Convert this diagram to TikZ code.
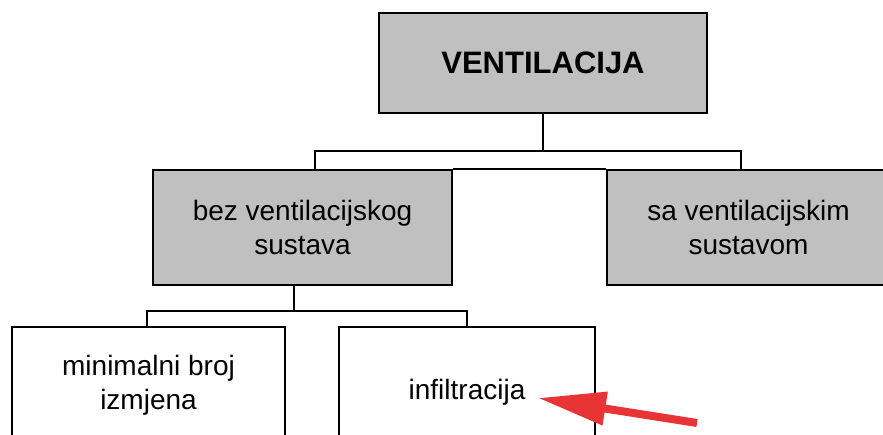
\documentclass[tikz,border=0pt]{standalone}
\usepackage{fontspec}
\setmainfont{Liberation Sans}
\usepackage{xcolor}
\usepackage{tikz}
\usetikzlibrary{arrows.meta, positioning}
\definecolor{boxgray}{RGB}{192,192,192}
\definecolor{arrowred}{RGB}{232,52,52}

\begin{document}
\begin{tikzpicture}[
    x=1pt, y=-1pt,
    box/.style={draw, line width=1.8pt, align=center, inner sep=0pt, font=\fontsize{28}{34}\selectfont},
    graybox/.style={box, fill=boxgray},
    link/.style={draw, line width=1.8pt}
]
\clip (0,0) rectangle (883,435);

% Top level
\node[graybox, minimum width=328pt, minimum height=100pt, font=\bfseries\fontsize{31}{36}\selectfont] (vent) at (543,63) {VENTILACIJA};

% Second level
\node[graybox, minimum width=299pt, minimum height=115pt] (bez) at (302.5,227.5) {bez ventilacijskog\\sustava};
\node[graybox, minimum width=283pt, minimum height=115pt] (sa) at (748.5,227.5) {sa ventilacijskim\\sustavom};

% Third level
\node[box, minimum width=273pt, minimum height=116pt] (min) at (148.5,385) {minimalni broj\\izmjena};
\node[box, minimum width=256pt, minimum height=130pt] (inf) at (467,392) {infiltracija};

% Connectors
\coordinate (bus1) at (543,151);
\coordinate (bus2) at (294,311);
\draw[link] (vent.south) -- (bus1);
\draw[link] ([xshift=12.5pt]bez.north) |- (bus1) -| ([xshift=-7.5pt]sa.north);
\draw[link] (bez.north east) -- (sa.north west);
\draw[link] ([xshift=-8.5pt]bez.south) -- (bus2);
\draw[link] ([xshift=-1.5pt]min.north) |- (bus2) -| (inf.north);

% Pointer
\coordinate (tail) at (697,423);
\coordinate (tip) at (538,398);
\draw[arrowred, line width=8pt, -{Triangle[length=68pt, width=32pt]}] (tail) -- (tip);
\end{tikzpicture}
\end{document}
